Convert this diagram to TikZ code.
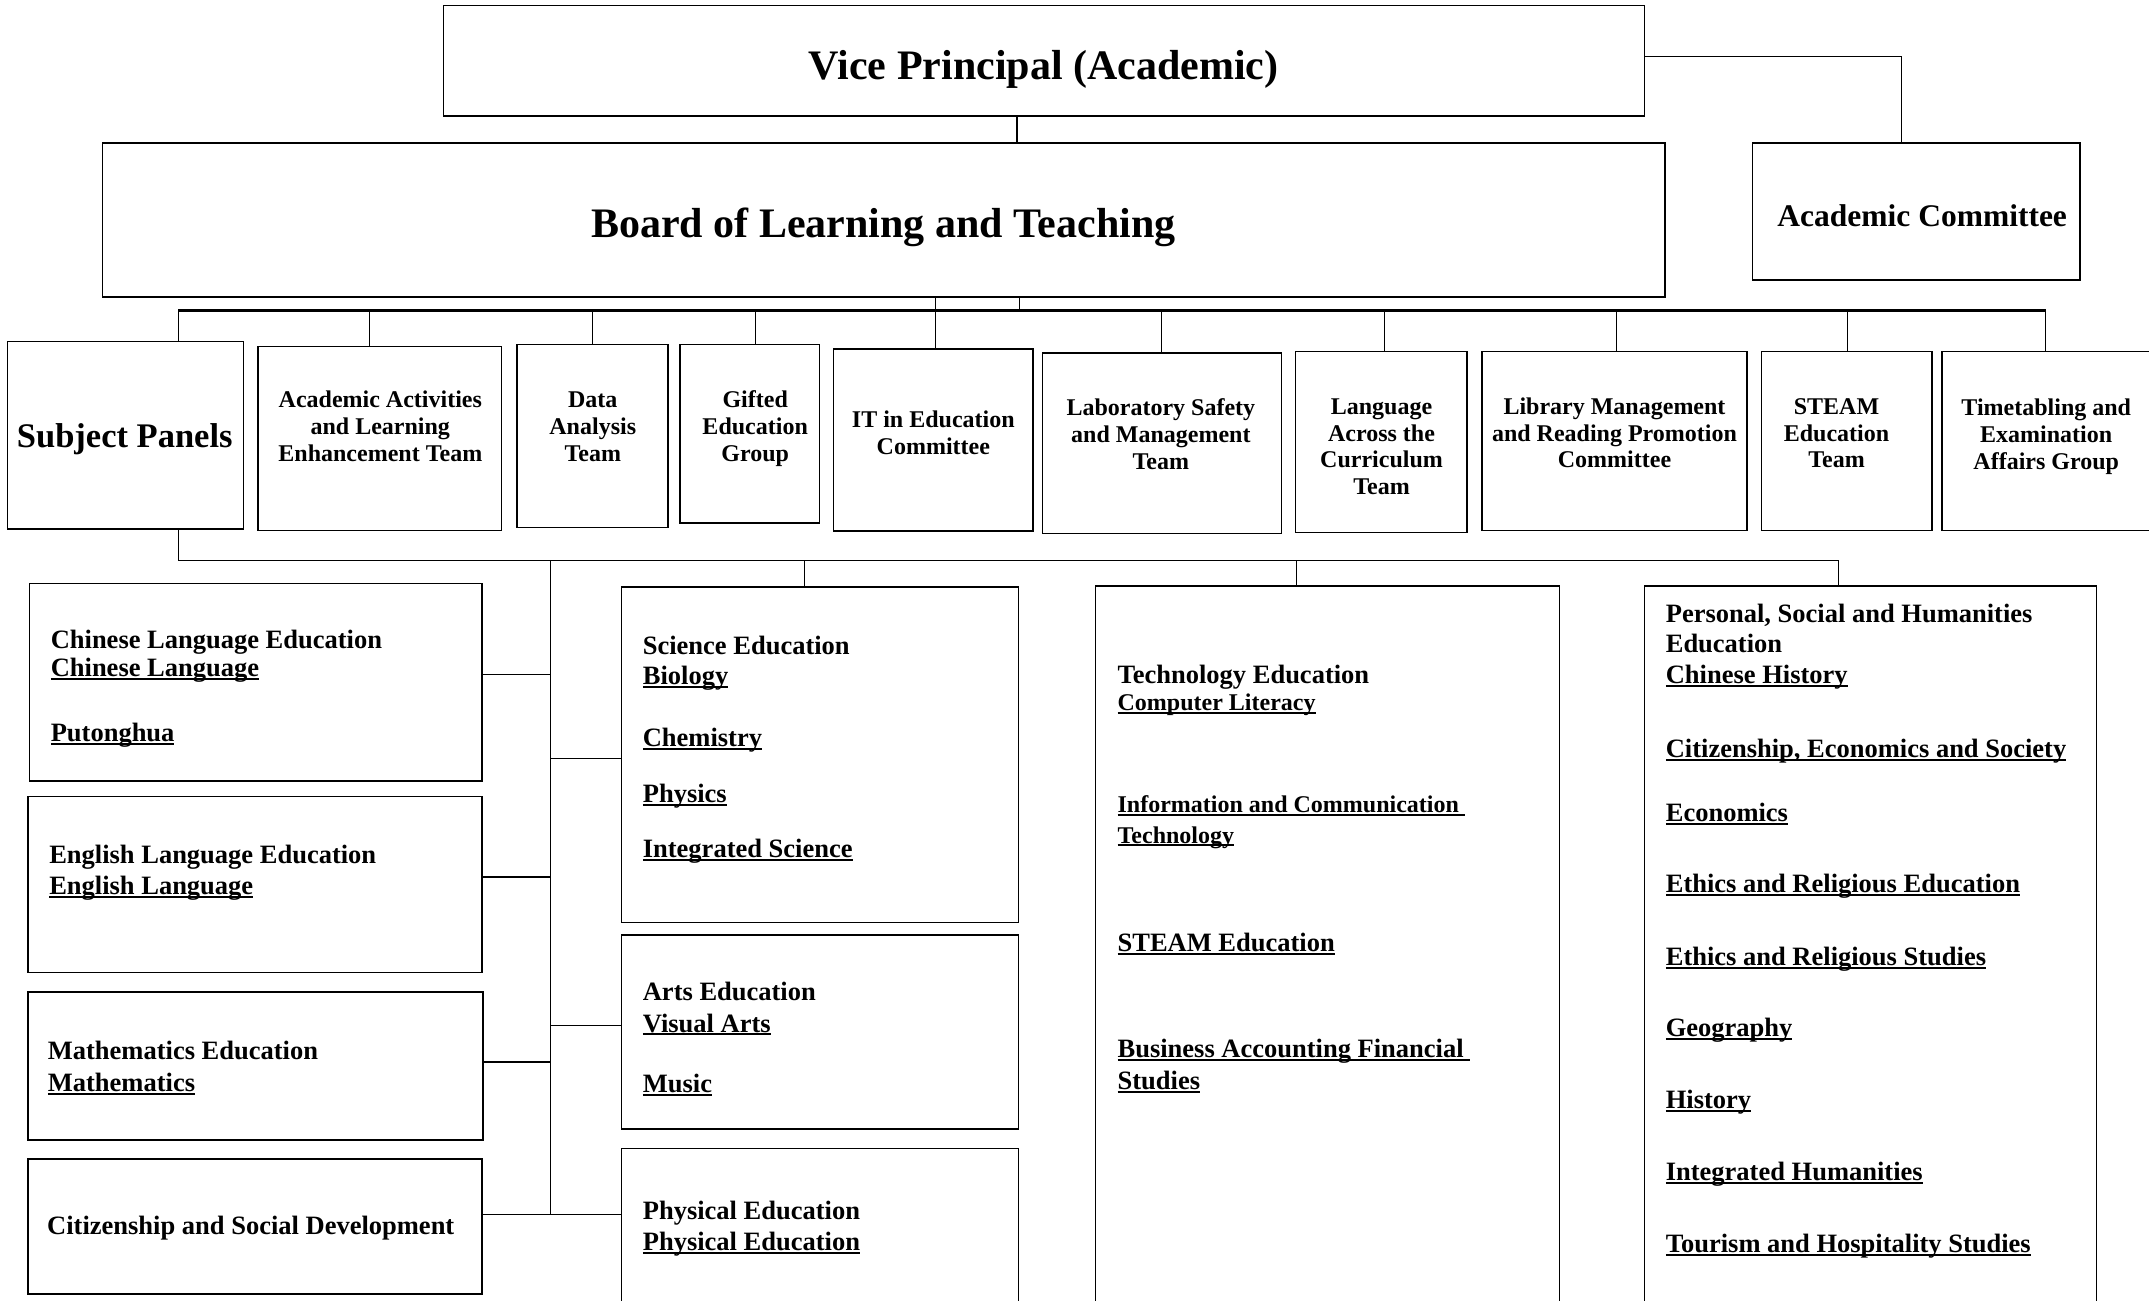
\documentclass[tikz,border=0pt]{standalone}
\usepackage{fontspec}
\setmainfont{Liberation Serif}
\usetikzlibrary{fit}
\newcommand\ulx[1]{\setbox0=\hbox{#1}\rlap{\rule[-0.13em]{\wd0}{0.075em}}\box0}
\newcommand\mlc[1]{\begin{tabular}[t]{@{}c@{}}#1\end{tabular}}
\begin{document}
\begin{tikzpicture}[x=1.3705pt,y=-1.3705pt,
  box/.style={draw=black, line width=1.6pt, inner sep=0pt},
  conn/.style={draw=black, line width=1.3pt},
  busline/.style={draw=black, line width=2.4pt},
  tb/.style={anchor=base, inner sep=0pt},
  sm/.style={anchor=base, inner sep=0pt, font=\fontsize{24}{26.9}\selectfont\bfseries},
  lt/.style={anchor=base west, inner sep=0pt, font=\fontsize{26.5}{30}\selectfont\bfseries},
  ls/.style={anchor=base west, inner sep=0pt, font=\fontsize{24}{28}\selectfont\bfseries}
]
\useasboundingbox (0,0) rectangle (1568,948.6);
\fill[white] (0,0) rectangle (1568,948.6);
\clip (0,0) rectangle (1568,948.6);

% ---------- top level boxes ----------
\node[box, fit={(323.5,3.9) (1199.9,84.6)}] (vp) {};
\node[box, fit={(74.7,104.2) (1214.8,216.5)}] (board) {};
\node[box, fit={(1278.7,104.2) (1517.6,204.2)}] (ac) {};

\node[tb, font=\fontsize{42}{48}\selectfont\bfseries] (vpt) at (761.5,57.8) {Vice Principal (Academic)};
\node[tb, font=\fontsize{42}{48}\selectfont\bfseries] (bt) at (644.5,173.2) {Board of Learning and Teaching};
\node[tb, font=\fontsize{31.5}{36}\selectfont\bfseries] (act) at (1402.5,165.1) {Academic Committee};

% ---------- second row boxes ----------
\node[box, fit={(5.6,249.3) (177.6,385.8)}] (sp) {};
\node[box, fit={(188.4,252.7) (366,387.1)}] (aa) {};
\node[box, fit={(377.2,251.4) (487.3,385)}] (da) {};
\node[box, fit={(496,251.4) (597.9,381.6)}] (gf) {};
\node[box, fit={(608.1,254.5) (753.5,387.6)}] (it) {};
\node[box, fit={(760.7,257.4) (934.9,389.2)}] (lab) {};
\node[box, fit={(945.2,256.6) (1070.5,388.6)}] (lac) {};
\node[box, fit={(1081.2,256.6) (1274.6,387.1)}] (lib) {};
\node[box, fit={(1285.3,256.6) (1409.6,387.1)}] (steam) {};
\node[box, fit={(1416.8,256.6) (1575,387.1)}] (tt) {};

\node[tb, font=\fontsize{34.5}{40}\selectfont\bfseries] (spt) at (91,326.2) {Subject Panels};
\node[sm] (aat) at (277.5,297.5) {\mlc{Academic Activities\\and Learning\\Enhancement Team}};
\node[sm] (dat) at (432.5,297.5) {\mlc{Data\\Analysis\\Team}};
\node[sm] (gft) at (551,297.2) {\mlc{Gifted\\Education\\Group}};
\node[sm] (itt) at (681,312.1) {\mlc{IT in Education\\Committee}};
\node[sm] (labt) at (847,303.5) {\mlc{Laboratory Safety\\and Management\\Team}};
\node[sm] (lact) at (1008,302.2) {\mlc{Language\\Across the\\Curriculum\\Team}};
\node[sm] (libt) at (1178,302.2) {\mlc{Library Management\\and Reading Promotion\\Committee}};
\node[sm] (steamt) at (1340,302.2) {\mlc{STEAM\\Education\\Team}};
\node[sm] (ttt) at (1493,303.5) {\mlc{Timetabling and\\Examination\\Affairs Group}};

% ---------- subject panel boxes ----------
\node[box, fit={(21.5,425.8) (351.7,569.8)}] (chi) {};
\node[box, fit={(20.5,581.1) (351.7,709.5)}] (eng) {};
\node[box, fit={(20.5,724) (352.5,831.8)}] (math) {};
\node[box, fit={(20.5,845.7) (351.7,944)}] (csd) {};
\node[box, fit={(453.5,428.3) (743.2,673)}] (sci) {};
\node[box, fit={(453.5,682) (743.2,823.7)}] (arts) {};
\node[box, fit={(453.5,837.9) (743.2,965)}] (pe) {};
\node[box, fit={(799.4,427.6) (1138,965)}] (tech) {};
\node[box, fit={(1200,427.6) (1529.8,965)}] (pshe) {};

% texts: Chinese
\node[lt] (chi1) at (36.9,473.2) {Chinese Language Education};
\node[lt] (chi2) at (36.9,493.8) {\ulx{Chinese Language}};
\node[lt] (chi3) at (36.9,541.1) {\ulx{Putonghua}};
% English
\node[lt] (eng1) at (35.8,630.3) {English Language Education};
\node[lt] (eng2) at (35.8,652.9) {\ulx{English Language}};
% Mathematics
\node[lt] (math1) at (34.8,773.2) {Mathematics Education};
\node[lt] (math2) at (34.8,796.1) {\ulx{Mathematics}};
% Citizenship
\node[lt] (csd1) at (34.3,900.8) {Citizenship and Social Development};
% Science
\node[lt] (sci1) at (468.9,477.8) {Science Education};
\node[lt] (sci2) at (468.9,499.4) {\ulx{Biology}};
\node[lt] (sci3) at (468.9,545) {\ulx{Chemistry}};
\node[lt] (sci4) at (468.9,585.3) {\ulx{Physics}};
\node[lt] (sci5) at (468.9,625.7) {\ulx{Integrated Science}};
% Arts
\node[lt] (arts1) at (468.9,730) {Arts Education};
\node[lt] (arts2) at (468.9,753) {\ulx{Visual Arts}};
\node[lt] (arts3) at (468.9,797.2) {\ulx{Music}};
% PE
\node[lt] (pe1) at (468.9,889.8) {Physical Education};
\node[lt] (pe2) at (468.9,912.5) {\ulx{Physical Education}};
% Technology
\node[lt] (tech1) at (815.3,498.4) {Technology Education};
\node[ls] (tech2) at (815.3,518.5) {\ulx{Computer Literacy}};
\node[ls] (tech3) at (815.3,592.8) {\ulx{Information and Communication\ }};
\node[ls] (tech4) at (815.3,615.1) {\ulx{Technology}};
\node[lt] (tech5) at (815.3,694.6) {\ulx{STEAM Education}};
\node[lt] (tech6) at (815.3,771.7) {\ulx{Business Accounting Financial\ }};
\node[lt] (tech7) at (815.3,794.8) {\ulx{Studies}};
% PSHE
\node[lt] (pshe1) at (1215.3,454.2) {Personal, Social and Humanities};
\node[lt] (pshe2) at (1215.3,476.1) {Education};
\node[lt] (pshe3) at (1215.3,498.4) {\ulx{Chinese History}};
\node[lt] (pshe4) at (1215.3,552.4) {\ulx{Citizenship, Economics and Society}};
\node[lt] (pshe5) at (1215.3,599.1) {\ulx{Economics}};
\node[lt] (pshe6) at (1215.3,651.1) {\ulx{Ethics and Religious Education}};
\node[lt] (pshe7) at (1215.3,704.2) {\ulx{Ethics and Religious Studies}};
\node[lt] (pshe8) at (1215.3,756.5) {\ulx{Geography}};
\node[lt] (pshe9) at (1215.3,808.5) {\ulx{History}};
\node[lt] (pshe10) at (1215.3,861.6) {\ulx{Integrated Humanities}};
\node[lt] (pshe11) at (1215.3,913.9) {\ulx{Tourism and Hospitality Studies}};

% ---------- connectors ----------
\coordinate (xvb) at (742,0);
\coordinate (vpac) at (1387.6,41.2);
\coordinate (xbb) at (743.7,0);
\coordinate (xit) at (682.8,0);
\coordinate (bL) at (130,226.6);
\coordinate (bR) at (1492.5,226.6);
\coordinate (sL) at (130,408.9);
\coordinate (sR) at (1341.5,408.9);
\coordinate (spT) at (401.8,408.9);
\coordinate (spB) at (401.8,886.3);

\draw[conn] (vp.south -| xvb) -- (board.north -| xvb);
\draw[conn] (vp.east |- vpac) -| (ac.north -| vpac);
\draw[conn] (board.south -| xbb) -- (bL -| xbb);
\draw[conn] (board.south -| xit) -- (it.north -| xit);
\draw[busline] (bL) -- (bR);
\foreach \n/\x in {sp/130, aa/269.8, da/432.5, gf/551.3, lab/847.5, lac/1010.1, lib/1179.4, steam/1348.2, tt/1492.5}{
  \path (\x,226.6) coordinate (tmp);
  \draw[conn] (tmp) -- (\n.north -| tmp);
}
% subject panels tree
\draw[conn] (sp.south -| sL) -- (sL);
\draw[conn] (sL) -- (sR);
\draw[conn] (spT) -- (spB);
\foreach \n/\x in {sci/587, tech/946.2, pshe/1341.5}{
  \path (\x,408.9) coordinate (tmp);
  \draw[conn] (tmp) -- (\n.north -| tmp);
}
\foreach \n/\y in {chi/492.3, eng/639.8, math/774.9, csd/886.3}{
  \path (401.8,\y) coordinate (tmp);
  \draw[conn] (\n.east |- tmp) -- (tmp);
}
\foreach \n/\y in {sci/553.5, arts/748, pe/886.3}{
  \path (401.8,\y) coordinate (tmp);
  \draw[conn] (tmp) -- (\n.west |- tmp);
}
\end{tikzpicture}
\end{document}
